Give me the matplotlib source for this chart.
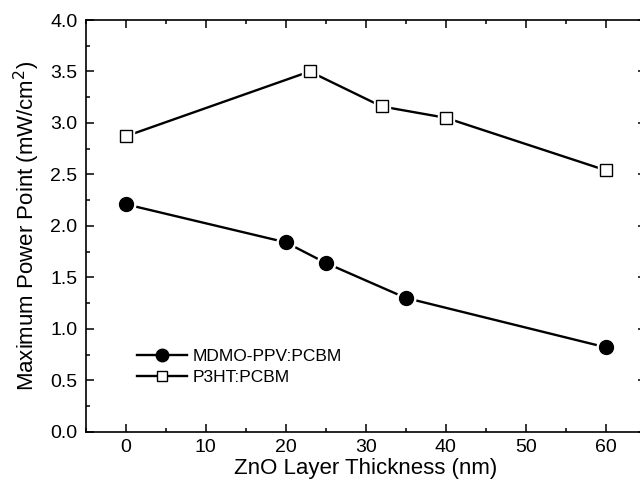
import matplotlib
matplotlib.use("Agg")
import matplotlib.pyplot as plt
from matplotlib.ticker import MultipleLocator
from matplotlib.lines import Line2D

plt.rcParams['font.family'] = ['Liberation Sans', 'DejaVu Sans']

mdmo_x = [0, 20, 25, 35, 60]
mdmo_y = [2.21, 1.84, 1.64, 1.30, 0.82]
p3ht_x = [0, 23, 32, 40, 60]
p3ht_y = [2.87, 3.50, 3.16, 3.05, 2.54]

labels = ["MDMO-PPV:PCBM", "P3HT:PCBM"]
xlabel = "ZnO Layer Thickness (nm)"
ylabel = "Maximum Power Point (mW/cm$^2$)"

W, H = 640, 491
fig = plt.figure(figsize=(W/100, H/100), dpi=100)
l, r, b, t = 85.7, 645.7, 431.7, 20
ax = fig.add_axes([l/W, 1-b/H, (r-l)/W, (b-t)/H])

lw = 1.7
ax.plot(mdmo_x, mdmo_y, color='black', lw=lw, zorder=2)
ax.plot(p3ht_x, p3ht_y, color='black', lw=lw, zorder=2)
ax.plot(mdmo_x, mdmo_y, ls='none', marker='o', ms=13.5, mfc='white', mec='white', zorder=3)
ax.plot(p3ht_x, p3ht_y, ls='none', marker='s', ms=12, mfc='white', mec='white', zorder=3)
ax.plot(mdmo_x, mdmo_y, ls='none', marker='o', ms=10, mfc='black', mec='black', zorder=4)
ax.plot(p3ht_x, p3ht_y, ls='none', marker='s', ms=8.5, mfc='white', mec='black', mew=1.0, zorder=4)

lh1 = Line2D([], [], color='black', lw=lw, marker='o', ms=9, mfc='black', mec='black')
lh2 = Line2D([], [], color='black', lw=lw, marker='s', ms=7.5, mfc='white', mec='black', mew=1.0)

ax.set_xlim(-5, 65)
ax.set_ylim(0, 4.0)
ax.xaxis.set_major_locator(MultipleLocator(10))
ax.xaxis.set_minor_locator(MultipleLocator(5))
ax.yaxis.set_major_locator(MultipleLocator(0.5))
ax.yaxis.set_minor_locator(MultipleLocator(0.25))
ax.yaxis.set_major_formatter(plt.FuncFormatter(lambda v, p: f"{v:.1f}"))

ax.tick_params(which='both', direction='in', top=True, right=True, width=1.1, colors='black')
ax.tick_params(which='major', length=6, labelsize=14)
ax.tick_params(axis='x', which='major', pad=5)
ax.tick_params(axis='y', which='major', pad=6)
ax.tick_params(which='minor', length=3)
for s in ax.spines.values():
    s.set_linewidth(1.2)

ax.set_xlabel(xlabel, fontsize=16, labelpad=2)
ax.set_ylabel(ylabel, fontsize=16, labelpad=6)

leg = ax.legend([lh1, lh2], labels, frameon=False, fontsize=12.5,
                loc='upper left', bbox_to_anchor=((130 - l)/(r - l), (b - 342)/(b - t)),
                handlelength=2.9, handletextpad=0.3, labelspacing=0.35, borderaxespad=0)

fig.savefig("out.png", dpi=100)
